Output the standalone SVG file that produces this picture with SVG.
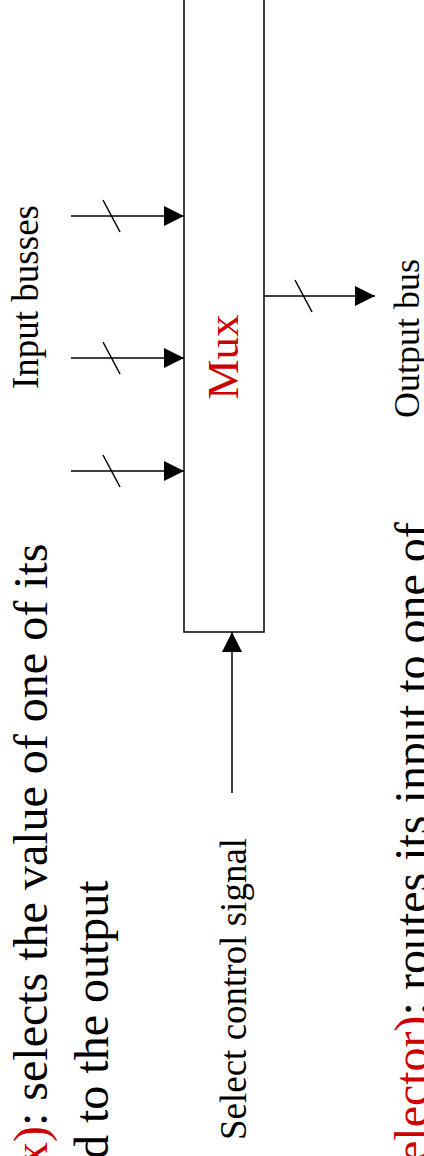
<svg xmlns="http://www.w3.org/2000/svg" width="424" height="1156" viewBox="0 0 424 1156">
<style>
.t{font-family:"Liberation Serif","Times New Roman",serif;fill:#000}
.big{font-size:48px}
.lbl{font-size:37px}
.red{fill:#CC0000}
.ln{stroke:#000;stroke-width:1.5;fill:none}
.box{stroke:#000;stroke-width:1.5;fill:#fff}
</style>
<defs>
<marker id="arr" viewBox="0 0 20 20" refX="20" refY="10" markerWidth="20" markerHeight="20" markerUnits="userSpaceOnUse" orient="auto">
<path d="M0,0 L20,10 L0,20 z" fill="#000"/>
</marker>
</defs>
<rect width="424" height="1156" fill="#fff"/>
<g id="text-mux-def">
<text class="t big" transform="translate(47,1166) rotate(-90)"><tspan class="red">x)</tspan>: selects the value of one of its</text>
<text class="t big" transform="translate(108,1159) rotate(-90)">d to the output</text>
</g>
<g id="text-demux-def">
<text class="t big" transform="translate(428,1162) rotate(-90)"><tspan class="red">elector)</tspan>: routes its input to one of</text>
</g>
<g id="mux">
<rect class="box" x="184" y="-10" width="80" height="642"/>
<text class="t red" font-size="45" text-anchor="middle" transform="translate(238,357) rotate(-90)">Mux</text>
</g>
<g id="label-inputs">
<text class="t lbl" transform="translate(38,389) rotate(-90)">Input busses</text>
</g>
<g id="label-output">
<text class="t" font-size="36" transform="translate(419,418) rotate(-90)">Output bus</text>
</g>
<g id="label-select">
<text class="t lbl" transform="translate(246,1140) rotate(-90)">Select control signal</text>
</g>
<g id="connectors">
<line class="ln" x1="71" y1="216" x2="184" y2="216" marker-end="url(#arr)"/>
<line class="ln" x1="71" y1="358" x2="184" y2="358" marker-end="url(#arr)"/>
<line class="ln" x1="71" y1="471" x2="184" y2="471" marker-end="url(#arr)"/>
<line class="ln" x1="264" y1="296" x2="375" y2="296" marker-end="url(#arr)"/>
<line class="ln" x1="232" y1="793" x2="232" y2="632" marker-end="url(#arr)"/>
<line class="ln" x1="103" y1="200" x2="120" y2="232"/>
<line class="ln" x1="103" y1="342" x2="120" y2="374"/>
<line class="ln" x1="103" y1="455" x2="120" y2="487"/>
<line class="ln" x1="295" y1="280" x2="312" y2="312"/>
</g>
</svg>
